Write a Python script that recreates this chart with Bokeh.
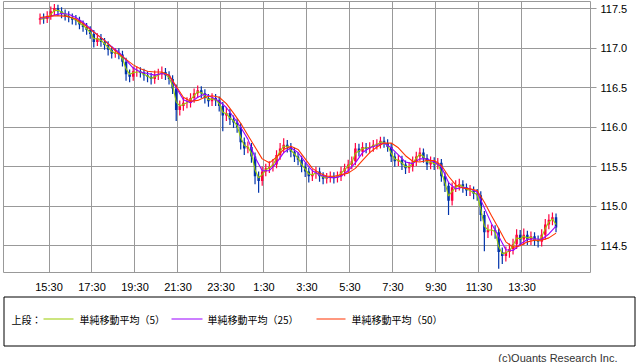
import numpy as np
from bokeh.plotting import figure
from bokeh.layouts import column
from bokeh.models import Range1d, FixedTicker, PrintfTickFormatter, ColumnDataSource
from bokeh.core.properties import value
from bokeh.embed import file_html
from bokeh.resources import INLINE

# ---------------- data ----------------
tick_labels = ["15:30", "17:30", "19:30", "21:30", "23:30", "1:30",
               "3:30", "5:30", "7:30", "9:30", "11:30", "13:30"]
tick_minutes = [0, 120, 240, 360, 480, 600, 720, 840, 960, 1080, 1200, 1320]  # minutes after 15:30
first_bar_offset = -25   # first bar at 15:05
bar_minutes = 10

first_open = 117.36
closes = [117.38,117.37,117.41,117.47,117.51,117.47,117.44,117.41,117.39,117.36,
          117.35,117.30,117.27,117.23,117.18,117.08,117.13,117.08,117.04,116.98,
          116.93,116.94,116.92,116.83,116.67,116.64,116.71,116.71,116.69,116.66,
          116.64,116.61,116.66,116.67,116.70,116.66,116.61,116.49,116.22,116.27,
          116.31,116.31,116.37,116.43,116.47,116.43,116.37,116.33,116.37,116.34,
          116.27,116.15,116.18,116.10,116.06,116.00,115.81,115.73,115.75,115.63,
          115.38,115.32,115.44,115.48,115.50,115.53,115.65,115.73,115.78,115.75,
          115.69,115.63,115.59,115.50,115.44,115.38,115.41,115.44,115.38,115.35,
          115.36,115.38,115.36,115.38,115.44,115.48,115.53,115.57,115.73,115.69,
          115.75,115.73,115.75,115.78,115.79,115.83,115.80,115.75,115.63,115.57,
          115.59,115.53,115.48,115.50,115.57,115.63,115.68,115.61,115.53,115.57,
          115.53,115.55,115.38,115.26,115.07,115.24,115.26,115.28,115.24,115.20,
          115.20,115.16,115.14,114.89,114.67,114.70,114.70,114.67,114.42,114.37,
          114.42,114.46,114.52,114.64,114.58,114.64,114.58,114.62,114.57,114.55,
          114.64,114.77,114.83,114.86,114.73]
highs = [117.44,117.44,117.47,117.53,117.56,117.55,117.52,117.49,117.47,117.44,
         117.42,117.40,117.35,117.32,117.28,117.23,117.19,117.18,117.13,117.09,
         117.03,117.00,117.00,116.97,116.88,116.73,116.77,116.77,116.76,116.74,
         116.71,116.69,116.72,116.74,116.77,116.75,116.71,116.66,116.54,116.34,
         116.38,116.38,116.43,116.49,116.53,116.52,116.48,116.42,116.43,116.42,
         116.39,116.32,116.25,116.23,116.15,116.11,116.05,115.87,115.82,115.80,
         115.68,115.44,115.50,115.54,115.57,115.60,115.71,115.80,115.86,115.84,
         115.80,115.74,115.68,115.64,115.55,115.49,115.47,115.50,115.49,115.43,
         115.42,115.44,115.43,115.44,115.50,115.54,115.59,115.63,115.80,115.79,
         115.81,115.80,115.81,115.84,115.85,115.88,115.88,115.85,115.80,115.68,
         115.65,115.64,115.58,115.56,115.63,115.69,115.74,115.73,115.66,115.63,
         115.62,115.61,115.60,115.43,115.31,115.30,115.33,115.35,115.33,115.29,
         115.27,115.25,115.22,115.19,114.94,114.77,114.77,114.76,114.72,114.48,
         114.49,114.53,114.59,114.71,114.70,114.72,114.69,114.68,114.67,114.63,
         114.71,114.84,114.90,114.92,114.91]
lows = [117.30,117.31,117.32,117.36,117.42,117.41,117.38,117.35,117.33,117.30,
        117.29,117.24,117.21,117.17,117.12,117.01,117.03,117.02,116.98,116.91,
        116.87,116.88,116.86,116.77,116.59,116.57,116.59,116.64,116.63,116.59,
        116.57,116.54,116.55,116.60,116.61,116.60,116.54,116.42,116.08,116.15,
        116.21,116.24,116.25,116.31,116.37,116.37,116.30,116.26,116.27,116.27,
        116.20,115.95,116.08,116.03,115.99,115.93,115.72,115.65,115.67,115.55,
        115.28,115.17,115.26,115.38,115.42,115.44,115.48,115.59,115.67,115.68,
        115.62,115.56,115.52,115.43,115.37,115.30,115.32,115.35,115.31,115.28,
        115.29,115.30,115.29,115.30,115.32,115.38,115.42,115.47,115.52,115.63,
        115.63,115.67,115.67,115.69,115.72,115.73,115.74,115.69,115.56,115.50,
        115.51,115.46,115.41,115.42,115.44,115.51,115.57,115.55,115.46,115.47,
        115.46,115.47,115.31,115.18,114.89,115.01,115.18,115.20,115.17,115.13,
        115.13,115.09,115.07,114.81,114.43,114.60,114.63,114.59,114.21,114.27,
        114.30,114.35,114.39,114.46,114.51,114.51,114.51,114.51,114.50,114.48,
        114.49,114.58,114.71,114.76,114.67]
ma5 = [117.37,117.37,117.39,117.43,117.48,117.48,117.46,117.43,117.40,117.38,
       117.36,117.32,117.29,117.25,117.20,117.12,117.12,117.10,117.06,117.01,
       116.96,116.94,116.93,116.87,116.74,116.67,116.69,116.70,116.70,116.67,
       116.65,116.62,116.64,116.66,116.69,116.67,116.63,116.53,116.32,116.27,
       116.29,116.31,116.35,116.40,116.45,116.44,116.40,116.35,116.36,116.35,
       116.30,116.19,116.17,116.12,116.08,116.02,115.87,115.77,115.75,115.67,
       115.46,115.36,115.40,115.46,115.49,115.52,115.61,115.70,115.76,115.76,
       115.71,115.66,115.61,115.53,115.47,115.41,115.40,115.42,115.40,115.37,
       115.36,115.37,115.37,115.37,115.42,115.46,115.51,115.55,115.67,115.70,
       115.73,115.74,115.74,115.77,115.78,115.81,115.81,115.77,115.67,115.60,
       115.58,115.55,115.50,115.50,115.55,115.61,115.66,115.63,115.56,115.56,
       115.54,115.54,115.43,115.30,115.13,115.19,115.24,115.27,115.25,115.22,
       115.20,115.17,115.15,114.96,114.75,114.70,114.70,114.68,114.49,114.40,
       114.41,114.44,114.50,114.60,114.59,114.62,114.60,114.61,114.58,114.56,
       114.61,114.72,114.80,114.84,114.77]
# sampled every second bar (20 minutes)
ma25 = [117.38,117.39,117.42,117.44,117.43,117.39,117.33,117.25,117.17,117.10,
        117.02,116.95,116.85,116.75,116.70,116.68,116.66,116.68,116.66,116.50,
        116.35,116.31,116.38,116.42,116.38,116.33,116.25,116.13,116.00,115.85,
        115.62,115.45,115.45,115.55,115.68,115.74,115.68,115.56,115.45,115.40,
        115.37,115.36,115.38,115.45,115.55,115.68,115.74,115.77,115.80,115.74,
        115.65,115.56,115.54,115.60,115.60,115.56,115.50,115.30,115.22,115.24,
        115.22,115.18,114.98,114.78,114.62,114.45,114.44,114.52,114.58,114.59,
        114.58,114.65,114.75]
ma50 = [117.39,117.40,117.41,117.41,117.40,117.37,117.31,117.24,117.17,117.10,
        117.01,116.93,116.86,116.79,116.74,116.71,116.70,116.70,116.66,116.52,
        116.38,116.33,116.34,116.38,116.40,116.38,116.30,116.18,116.05,115.90,
        115.75,115.60,115.55,115.62,115.72,115.76,115.72,115.60,115.48,115.42,
        115.38,115.38,115.40,115.42,115.48,115.58,115.68,115.75,115.80,115.80,
        115.74,115.64,115.57,115.56,115.58,115.58,115.52,115.38,115.27,115.23,
        115.22,115.20,115.05,114.88,114.72,114.55,114.48,114.50,114.55,114.57,
        114.57,114.60,114.66]
y_ticks = [114.5, 115.0, 115.5, 116.0, 116.5, 117.0, 117.5]
legend_title = "上段："
legend_labels = ["単純移動平均（5）", "単純移動平均（25）", "単純移動平均（50）"]
ma_colors = ["#99cc00", "#9900ff", "#ff3300"]
copyright_text = "(c)Quants Research Inc."

# ---------------- derived ----------------
n = len(closes)
t = first_bar_offset + bar_minutes * np.arange(n)
opens = [first_open] + closes[:-1]
up = [c >= o for o, c in zip(opens, closes)]
UP_COLOR, DN_COLOR = "#ff0040", "#0033aa"
cols = [UP_COLOR if u else DN_COLOR for u in up]
src = ColumnDataSource(dict(t=t, o=opens, c=closes, h=highs, l=lows,
                            top=[max(a, b) for a, b in zip(opens, closes)],
                            bot=[min(a, b) for a, b in zip(opens, closes)],
                            col=cols))

GRID = "#999999"
TICK_FONT = "Liberation Sans"

p = figure(width=638, height=295, output_backend="svg", toolbar_location=None,
           x_range=Range1d(-126.98, 1511.2), y_range=Range1d(114.162, 117.592),
           y_axis_location="right", min_border_left=3, min_border_right=48,
           min_border_top=1, min_border_bottom=15)
p.background_fill_color = "white"
p.border_fill_color = "white"
p.outline_line_color = GRID
p.outline_line_width = 1

p.xaxis.ticker = FixedTicker(ticks=tick_minutes)
p.xaxis.major_label_overrides = {m: lab for m, lab in zip(tick_minutes, tick_labels)}
p.xaxis.axis_line_color = None
p.xaxis.major_tick_line_color = None
p.xaxis.minor_tick_line_color = None
p.xaxis.major_label_standoff = 2
p.xaxis.major_label_text_font = TICK_FONT
p.xaxis.major_label_text_font_size = "11px"
p.xaxis.major_label_text_color = "#000000"

p.yaxis.ticker = FixedTicker(ticks=y_ticks)
p.yaxis.formatter = PrintfTickFormatter(format="%.1f")
p.yaxis.axis_line_color = None
p.yaxis.major_tick_line_color = GRID
p.yaxis.major_tick_out = 6
p.yaxis.major_tick_in = 0
p.yaxis.minor_tick_line_color = None
p.yaxis.major_label_standoff = 4
p.yaxis.major_label_text_font = TICK_FONT
p.yaxis.major_label_text_font_size = "11px"
p.yaxis.major_label_text_color = "#000000"

p.xgrid.grid_line_color = GRID
p.ygrid.grid_line_color = GRID
p.xgrid.ticker = FixedTicker(ticks=tick_minutes)
p.ygrid.ticker = FixedTicker(ticks=y_ticks)

p.segment(x0="t", y0="h", x1="t", y1="l", color="col", line_width=1.2, source=src)
p.vbar(x="t", width=7, top="top", bottom="bot", fill_color="col", line_color=None, source=src)

p.line(list(t), ma5, line_color=ma_colors[0], line_width=1.1)
p.line(list(t[::2]), ma25, line_color=ma_colors[1], line_width=1.1)
p.line(list(t[::2]), ma50, line_color=ma_colors[2], line_width=1.1)

# ---------------- legend panel ----------------
q = figure(width=638, height=67, output_backend="svg", toolbar_location=None,
           x_range=Range1d(0, 638), y_range=Range1d(67, 0),
           min_border=0, min_border_left=0, min_border_right=0,
           min_border_top=0, min_border_bottom=0)
q.axis.visible = False
q.grid.visible = False
q.outline_line_color = None
q.background_fill_color = "white"
q.border_fill_color = "white"

# do not align the frames of the two figures
for fig in (p, q):
    try:
        fig.frame_align = False
    except Exception:
        pass

q.quad(left=[3.5], right=[634.5], top=[1.5], bottom=[50.5],
       fill_color=None, line_color="black", line_width=1)

JP = value("Noto Sans CJK JP")
q.text(x=[11], y=[23.5], text=[legend_title], text_font=JP, text_font_size="10px",
       text_baseline="middle", text_align="left", text_color="#000000")
line_x0 = [43, 171, 316]
line_x1 = [73, 202, 345]
text_x = [79, 207, 351]
q.segment(x0=line_x0, y0=[23.5] * 3, x1=line_x1, y1=[23.5] * 3,
          line_color=ma_colors, line_width=1.2)
q.text(x=text_x, y=[23.5] * 3, text=legend_labels, text_font=JP, text_font_size="10px",
       text_baseline="middle", text_align="left", text_color="#000000")
q.text(x=[617], y=[62], text=[copyright_text], text_font=value("Liberation Sans"),
       text_font_size="11px", text_baseline="middle", text_align="right", text_color="#333333")

layout = column(p, q, spacing=0)
open("out.html", "w").write(file_html(layout, INLINE))
